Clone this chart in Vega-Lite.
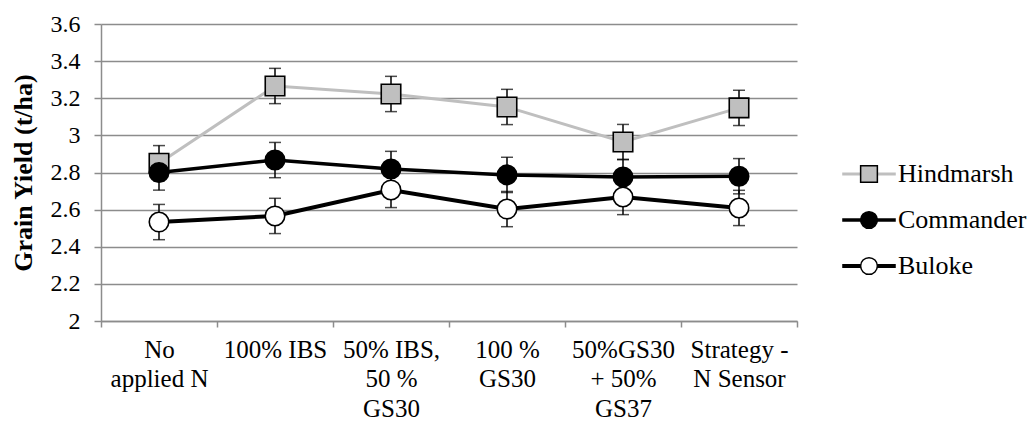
{
  "$schema": "https://vega.github.io/schema/vega-lite/v6.json",
  "width": 696,
  "height": 297,
  "autosize": {"type": "none"},
  "padding": {"left": 101, "top": 24, "right": 232, "bottom": 102},
  "background": "white",
  "config": {
    "view": {"stroke": null},
    "font": "Liberation Serif",
    "axis": {
      "labelFont": "Liberation Serif",
      "titleFont": "Liberation Serif",
      "labelColor": "black",
      "titleColor": "black",
      "domainColor": "#8c8c8c",
      "domainWidth": 1.5,
      "tickColor": "#8c8c8c",
      "tickWidth": 1.5,
      "gridColor": "#8c8c8c",
      "gridWidth": 1.3
    },
    "legend": {
      "labelFont": "Liberation Serif",
      "labelFontSize": 26,
      "labelColor": "black",
      "padding": 0
    }
  },
  "data": {
    "values": [
      {"variety": "Hindmarsh", "v2": "H", "treatment": "No|applied N", "yield": 2.85, "lo": 2.755, "hi": 2.945},
      {"variety": "Hindmarsh", "v2": "H", "treatment": "100% IBS", "yield": 3.266, "lo": 3.171, "hi": 3.361},
      {"variety": "Hindmarsh", "v2": "H", "treatment": "50% IBS,|50 %|GS30", "yield": 3.223, "lo": 3.128, "hi": 3.318},
      {"variety": "Hindmarsh", "v2": "H", "treatment": "100 %|GS30", "yield": 3.153, "lo": 3.058, "hi": 3.248},
      {"variety": "Hindmarsh", "v2": "H", "treatment": "50%GS30|+ 50%|GS37", "yield": 2.964, "lo": 2.869, "hi": 3.059},
      {"variety": "Hindmarsh", "v2": "H", "treatment": "Strategy -|N Sensor", "yield": 3.148, "lo": 3.053, "hi": 3.243},
      {"variety": "Commander", "v2": "C", "treatment": "No|applied N", "yield": 2.80, "lo": 2.705, "hi": 2.895},
      {"variety": "Commander", "v2": "C", "treatment": "100% IBS", "yield": 2.867, "lo": 2.772, "hi": 2.962},
      {"variety": "Commander", "v2": "C", "treatment": "50% IBS,|50 %|GS30", "yield": 2.819, "lo": 2.724, "hi": 2.914},
      {"variety": "Commander", "v2": "C", "treatment": "100 %|GS30", "yield": 2.787, "lo": 2.692, "hi": 2.882},
      {"variety": "Commander", "v2": "C", "treatment": "50%GS30|+ 50%|GS37", "yield": 2.776, "lo": 2.681, "hi": 2.871},
      {"variety": "Commander", "v2": "C", "treatment": "Strategy -|N Sensor", "yield": 2.78, "lo": 2.685, "hi": 2.875},
      {"variety": "Buloke", "v2": "B", "treatment": "No|applied N", "yield": 2.533, "lo": 2.438, "hi": 2.628},
      {"variety": "Buloke", "v2": "B", "treatment": "100% IBS", "yield": 2.566, "lo": 2.471, "hi": 2.661},
      {"variety": "Buloke", "v2": "B", "treatment": "50% IBS,|50 %|GS30", "yield": 2.706, "lo": 2.611, "hi": 2.801},
      {"variety": "Buloke", "v2": "B", "treatment": "100 %|GS30", "yield": 2.603, "lo": 2.508, "hi": 2.698},
      {"variety": "Buloke", "v2": "B", "treatment": "50%GS30|+ 50%|GS37", "yield": 2.668, "lo": 2.573, "hi": 2.763},
      {"variety": "Buloke", "v2": "B", "treatment": "Strategy -|N Sensor", "yield": 2.609, "lo": 2.514, "hi": 2.704}
    ]
  },
  "encoding": {
    "x": {
      "field": "treatment",
      "type": "nominal",
      "scale": {"domain": ["No|applied N", "100% IBS", "50% IBS,|50 %|GS30", "100 %|GS30", "50%GS30|+ 50%|GS37", "Strategy -|N Sensor"], "paddingInner": 0, "paddingOuter": 0},
      "axis": {
        "title": null,
        "labelAngle": 0,
        "labelExpr": "split(datum.label, '|')",
        "labelFontSize": 25,
        "labelLineHeight": 29.5,
        "labelBaseline": "top",
        "labelPadding": 10,
        "tickSize": 6,
        "tickBand": "extent",
        "grid": false
      }
    },
    "y": {
      "field": "yield",
      "type": "quantitative",
      "scale": {"domain": [2, 3.6], "nice": false, "zero": false},
      "axis": {
        "title": "Grain Yield (t/ha)",
        "titleFontSize": 26,
        "titleFontWeight": "bold",
        "titlePadding": 14,
        "tickCount": 12,
        "values": [2, 2.2, 2.4, 2.6, 2.8, 3, 3.2, 3.4, 3.6],
        "labelOverlap": false,
        "format": ".1~f",
        "tickSize": 7,
        "labelPadding": 14,
        "labelFontSize": 24,
        "grid": true
      }
    }
  },
  "layer": [
    {
      "mark": {"type": "rule", "color": "black", "strokeWidth": 1.5},
      "encoding": {
        "y": {"field": "lo", "type": "quantitative"},
        "y2": {"field": "hi"}
      }
    },
    {
      "mark": {"type": "tick", "color": "black", "thickness": 1.5, "size": 12, "orient": "horizontal"},
      "encoding": {"y": {"field": "lo", "type": "quantitative"}}
    },
    {
      "mark": {"type": "tick", "color": "black", "thickness": 1.5, "size": 12, "orient": "horizontal"},
      "encoding": {"y": {"field": "hi", "type": "quantitative"}}
    },
    {
      "mark": {"type": "line"},
      "encoding": {
        "color": {
          "field": "variety",
          "type": "nominal",
          "scale": {"domain": ["Hindmarsh", "Commander", "Buloke"], "range": ["#bfbfbf", "black", "black"]},
          "legend": {
            "title": null,
            "orient": "none",
            "legendX": 755,
            "legendY": 137,
            "symbolType": "M-3.2,0H3.2",
            "symbolSize": 280,
            "rowPadding": 20,
            "labelOffset": 16
          }
        },
        "strokeWidth": {
          "field": "variety",
          "type": "nominal",
          "scale": {"domain": ["Hindmarsh", "Commander", "Buloke"], "range": [3, 4, 4]}
        }
      }
    },
    {
      "mark": {"type": "point", "filled": true, "stroke": "black", "strokeWidth": 1.6, "opacity": 1, "size": 380},
      "encoding": {
        "shape": {
          "field": "v2",
          "type": "nominal",
          "scale": {"domain": ["H", "C", "B"], "range": ["square", "circle", "circle"]},
          "legend": {
            "title": null,
            "orient": "none",
            "legendX": 755,
            "legendY": 137,
            "symbolSize": 280,
            "rowPadding": 20,
            "labelOffset": 16,
            "labelExpr": "''",
            "encode": {
              "symbols": {
                "update": {
                  "stroke": {"value": "black"},
                  "strokeWidth": {"value": 1.6},
                  "opacity": {"value": 1}
                }
              }
            }
          }
        },
        "fill": {
          "field": "v2",
          "type": "nominal",
          "scale": {"domain": ["H", "C", "B"], "range": ["#bfbfbf", "black", "white"]}
        }
      }
    }
  ]
}
